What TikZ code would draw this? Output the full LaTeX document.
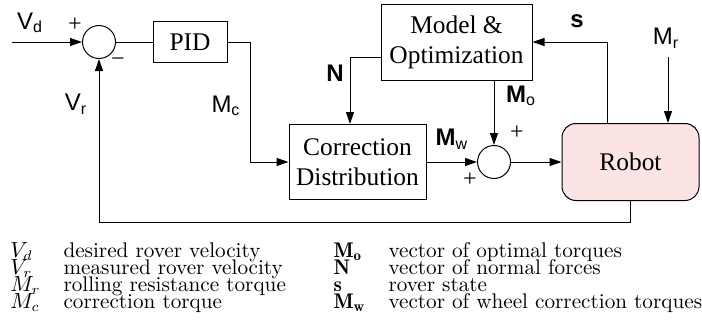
\documentclass[tikz,border=0pt]{standalone}
\usepackage{fontspec}
\newfontfamily\timesf{Liberation Serif}
\newfontfamily\helvf{Liberation Sans}
\usetikzlibrary{arrows.meta,positioning}
\definecolor{robotpink}{RGB}{252,228,229}

\begin{document}
\begin{tikzpicture}[x=0.5pt, y=-0.5pt, line width=0.5pt,
    >={Triangle[length=6pt,width=4pt]},
    block/.style={draw, inner sep=0pt, align=center,
      font=\timesf\fontsize{12.7}{15}\selectfont},
    sumnode/.style={draw, circle, minimum size=16.5pt, inner sep=0pt},
    sig/.style={inner sep=0pt, font=\helvf\fontsize{12}{14}\selectfont},
    sign/.style={inner sep=0pt, font=\timesf\fontsize{12}{14}\selectfont},
    legend/.style={anchor=base west, inner sep=0pt,
      font=\fontsize{10.6}{14.7}\selectfont}]
  \useasboundingbox (0,0) rectangle (702,327);

  % ----------- blocks -----------
  \node[sumnode] (sumA) at (99,42) {};
  \node[block, minimum width=37pt, minimum height=20.5pt] (pid) at (190,42) {PID};
  \node[block, minimum width=75.5pt, minimum height=38pt] (model) at (456.5,42)
    {Model \&\\Optimization};
  \node[block, minimum width=68.5pt, minimum height=37.5pt] (corr) at (357.5,162)
    {Correction\\Distribution};
  \node[sumnode] (sumB) at (494,162) {};
  \node[block, rounded corners=7pt, fill=robotpink,
    minimum width=68.5pt, minimum height=38.5pt] (robot) at (630.5,162) {Robot};

  % free ends and bends
  \coordinate (vd) at (12,42);
  \coordinate (mcbend) at (250,42);
  \coordinate (mr) at (668,57);
  \coordinate (fb) at (99,222);

  % ----------- signals -----------
  \draw[->] (vd) -- (sumA.west);
  \draw (sumA) -- (pid);
  \draw[->] (pid.east) -- (mcbend) |- (corr.west);
  \draw[->] ([yshift=-7.5pt]model.west) -| ([xshift=-3.75pt]corr.north);
  \draw[->] (model.south -| sumB) -- (sumB.north);
  \draw[->] (corr) -- (sumB);
  \draw[->] (sumB) -- (robot);
  \draw[->] ([xshift=-11.75pt]robot.north) |- (model.east);
  \draw[->] (mr) -- (mr |- robot.north);
  \draw[->] (robot.south) |- (fb) -- (sumA.south);

  % labels
  \node[sig] (lvd) at (30,23) {V\textsubscript{d}};
  \node[sig] (lvr) at (76,104) {V\textsubscript{r}};
  \node[sig] (lmc) at (226,106) {M\textsubscript{c}};
  \node[sig] (ln) at (335,73) {\textbf{N}};
  \node[sig] (ls) at (577,21) {\textbf{s}};
  \node[sig] (lmr) at (666,38) {M\textsubscript{r}};
  \node[sig] (lmo) at (521,96) {\textbf{M}\textsubscript{o}};
  \node[sig] (lmw) at (452,139) {\textbf{M}\textsubscript{w}};

  % signs
  \node[sign] (plusA) at (75,25) {+};
  \node[sign] (minusA) at (118,62) {\char"2212};
  \node[sign] (plusB) at (517,133) {+};
  \node[sign] (plusC) at (470,180) {+};

  % ----------- legend -----------
  \node[legend] (symvd) at (10,257) {$V_d$};
  \node[legend] (txtvd) at (63,257) {desired rover velocity};
  \node[legend] (symvr) at (10,274) {$V_r$};
  \node[legend] (txtvr) at (63,274) {measured rover velocity};
  \node[legend] (symmr) at (10,291) {$M_r$};
  \node[legend] (txtmr) at (63,291) {rolling resistance torque};
  \node[legend] (symmc) at (10,308) {$M_c$};
  \node[legend] (txtmc) at (63,308) {correction torque};

  \node[legend] (symmo) at (333,257) {$\mathbf{M_o}$};
  \node[legend] (txtmo) at (388,257) {vector of optimal torques};
  \node[legend] (symn) at (333,274) {$\mathbf{N}$};
  \node[legend] (txtn) at (388,274) {vector of normal forces};
  \node[legend] (syms) at (333,291) {$\mathbf{s}$};
  \node[legend] (txts) at (388,291) {rover state};
  \node[legend] (symmw) at (333,308) {$\mathbf{M_w}$};
  \node[legend] (txtmw) at (388,308) {vector of wheel correction torques};
\end{tikzpicture}
\end{document}
